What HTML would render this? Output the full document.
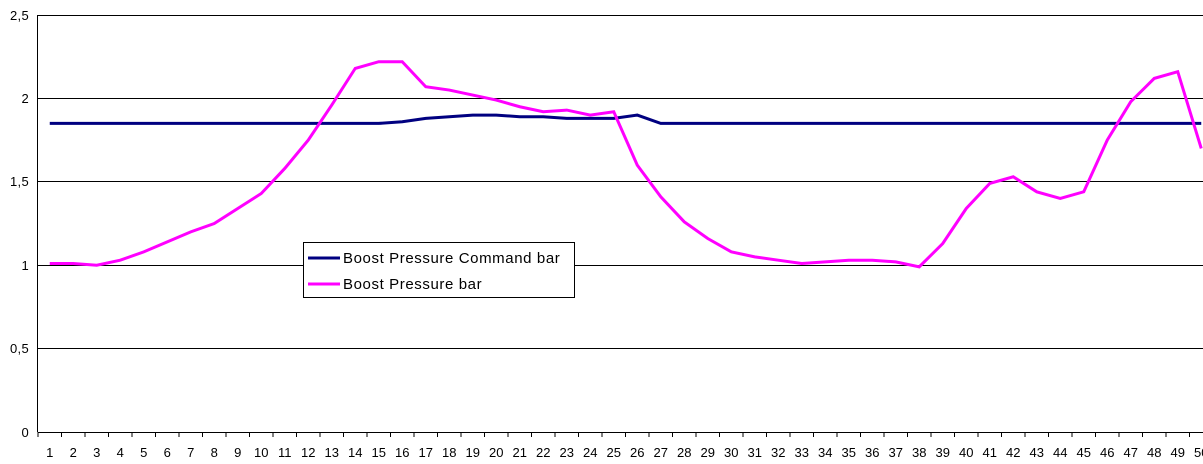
<!DOCTYPE html><html><head><style>body{margin:0;background:#fff}svg{display:block;font-family:"Liberation Sans",Arial,sans-serif}</style></head><body>
<svg width="1203" height="464" viewBox="0 0 1203 464">
<g stroke="#000" stroke-width="1">
<line x1="38" y1="348.5" x2="1203" y2="348.5"/><line x1="38" y1="265.5" x2="1203" y2="265.5"/><line x1="38" y1="181.5" x2="1203" y2="181.5"/><line x1="38" y1="98.5" x2="1203" y2="98.5"/><line x1="38" y1="15.5" x2="1203" y2="15.5"/>
<line x1="37.5" y1="15" x2="37.5" y2="432"/><line x1="38" y1="432.5" x2="1203" y2="432.5"/>
</g>
<g id="t" stroke="#000"></g>
<g font-size="13" fill="#000" text-anchor="end" letter-spacing="0.3"><text x="29" y="437">0</text><text x="29" y="353">0,5</text><text x="29" y="270">1</text><text x="29" y="186">1,5</text><text x="29" y="103">2</text><text x="29" y="20">2,5</text></g>
<g id="xl" font-size="13" text-anchor="middle"></g>
<polyline id="nv" fill="none" stroke="#000080" stroke-width="3"/>
<polyline id="pk" fill="none" stroke="#ff00ff" stroke-width="3"/>
<rect x="303.5" y="242.5" width="271" height="55" fill="#fff" stroke="#000"/>
<line x1="308" y1="258" x2="340" y2="258" stroke="#000080" stroke-width="3"/>
<line x1="308" y1="284" x2="340" y2="284" stroke="#ff00ff" stroke-width="3"/>
<text x="343" y="263" font-size="15" letter-spacing="0.6">Boost Pressure Command bar</text>
<text x="343" y="289" font-size="15" letter-spacing="0.6">Boost Pressure bar</text>
</svg>
<script>
var p=[1.01,1.01,1.0,1.03,1.08,1.14,1.20,1.25,1.34,1.43,1.58,1.75,1.96,2.18,2.22,2.22,2.07,2.05,2.02,1.99,1.95,1.92,1.93,1.90,1.92,1.60,1.41,1.26,1.16,1.08,1.05,1.03,1.01,1.02,1.03,1.03,1.02,0.99,1.13,1.34,1.49,1.53,1.44,1.40,1.44,1.75,1.98,2.12,2.16,1.70];
var n=[];for(var i=0;i<50;i++)n.push(1.85);
var m={16:1.86,17:1.88,18:1.89,19:1.90,20:1.90,21:1.89,22:1.89,23:1.88,24:1.88,25:1.88,26:1.90};for(var k in m)n[k-1]=m[k];
function X(i){return 38+(i+0.5)*23.5}function Y(v){return 432-v*166.8}
document.getElementById('pk').setAttribute('points',p.map((v,i)=>X(i)+','+Y(v)).join(' '));
document.getElementById('nv').setAttribute('points',n.map((v,i)=>X(i)+','+Y(v)).join(' '));
var t='',l='';for(i=0;i<=50;i++){var x=38+i*23.5;t+='<line x1="'+x+'" y1="432" x2="'+x+'" y2="437"/>';if(i<50)l+='<text x="'+X(i)+'" y="457">'+(i+1)+'</text>';}
document.getElementById('t').innerHTML=t;document.getElementById('xl').innerHTML=l;
</script>
</body></html>
